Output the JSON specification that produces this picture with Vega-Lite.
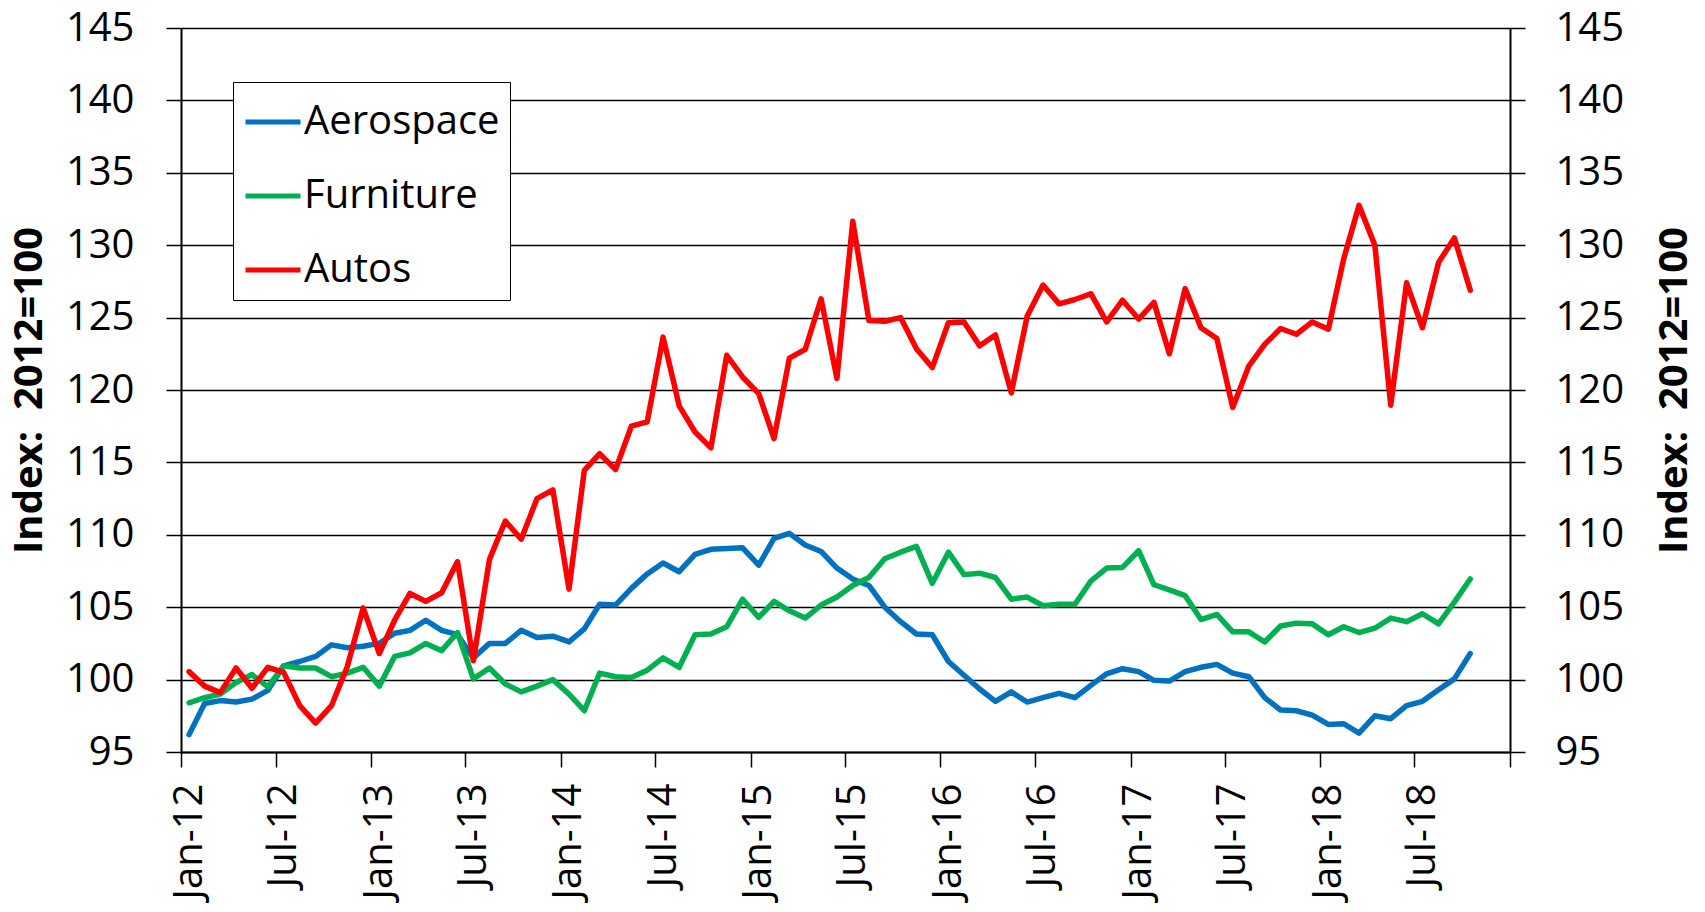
{
  "$schema": "https://vega.github.io/schema/vega-lite/v6.json",
  "width": 1329,
  "height": 724,
  "autosize": "none",
  "padding": {"left": 181, "top": 28, "right": 195, "bottom": 160},
  "background": "white",
  "data": {"values": [
    {"month": "2012-01", "Aerospace": 96.2, "Furniture": 98.4, "Autos": 100.55},
    {"month": "2012-02", "Aerospace": 98.35, "Furniture": 98.75, "Autos": 99.55},
    {"month": "2012-03", "Aerospace": 98.55, "Furniture": 99.0, "Autos": 99.1},
    {"month": "2012-04", "Aerospace": 98.45, "Furniture": 99.8, "Autos": 100.8},
    {"month": "2012-05", "Aerospace": 98.65, "Furniture": 100.35, "Autos": 99.4},
    {"month": "2012-06", "Aerospace": 99.25, "Furniture": 99.5, "Autos": 100.85},
    {"month": "2012-07", "Aerospace": 100.95, "Furniture": 100.95, "Autos": 100.5},
    {"month": "2012-08", "Aerospace": 101.25, "Furniture": 100.8, "Autos": 98.2},
    {"month": "2012-09", "Aerospace": 101.6, "Furniture": 100.8, "Autos": 97.0},
    {"month": "2012-10", "Aerospace": 102.4, "Furniture": 100.2, "Autos": 98.2},
    {"month": "2012-11", "Aerospace": 102.2, "Furniture": 100.45, "Autos": 100.9},
    {"month": "2012-12", "Aerospace": 102.3, "Furniture": 100.85, "Autos": 104.95},
    {"month": "2013-01", "Aerospace": 102.5, "Furniture": 99.55, "Autos": 101.8},
    {"month": "2013-02", "Aerospace": 103.2, "Furniture": 101.6, "Autos": 104.1},
    {"month": "2013-03", "Aerospace": 103.4, "Furniture": 101.85, "Autos": 105.95},
    {"month": "2013-04", "Aerospace": 104.1, "Furniture": 102.5, "Autos": 105.4},
    {"month": "2013-05", "Aerospace": 103.4, "Furniture": 102.0, "Autos": 106.0},
    {"month": "2013-06", "Aerospace": 103.1, "Furniture": 103.25, "Autos": 108.15},
    {"month": "2013-07", "Aerospace": 101.5, "Furniture": 100.05, "Autos": 101.3},
    {"month": "2013-08", "Aerospace": 102.5, "Furniture": 100.8, "Autos": 108.3},
    {"month": "2013-09", "Aerospace": 102.5, "Furniture": 99.7, "Autos": 110.95},
    {"month": "2013-10", "Aerospace": 103.4, "Furniture": 99.15, "Autos": 109.7},
    {"month": "2013-11", "Aerospace": 102.9, "Furniture": 99.55, "Autos": 112.5},
    {"month": "2013-12", "Aerospace": 103.0, "Furniture": 100.0, "Autos": 113.1},
    {"month": "2014-01", "Aerospace": 102.6, "Furniture": 99.0, "Autos": 106.25},
    {"month": "2014-02", "Aerospace": 103.5, "Furniture": 97.85, "Autos": 114.45},
    {"month": "2014-03", "Aerospace": 105.2, "Furniture": 100.45, "Autos": 115.6},
    {"month": "2014-04", "Aerospace": 105.15, "Furniture": 100.2, "Autos": 114.5},
    {"month": "2014-05", "Aerospace": 106.3, "Furniture": 100.15, "Autos": 117.5},
    {"month": "2014-06", "Aerospace": 107.3, "Furniture": 100.65, "Autos": 117.8},
    {"month": "2014-07", "Aerospace": 108.05, "Furniture": 101.5, "Autos": 123.65},
    {"month": "2014-08", "Aerospace": 107.45, "Furniture": 100.85, "Autos": 118.9},
    {"month": "2014-09", "Aerospace": 108.65, "Furniture": 103.1, "Autos": 117.1},
    {"month": "2014-10", "Aerospace": 109.0, "Furniture": 103.15, "Autos": 116.0},
    {"month": "2014-11", "Aerospace": 109.05, "Furniture": 103.65, "Autos": 122.4},
    {"month": "2014-12", "Aerospace": 109.1, "Furniture": 105.55, "Autos": 120.9},
    {"month": "2015-01", "Aerospace": 107.9, "Furniture": 104.3, "Autos": 119.75},
    {"month": "2015-02", "Aerospace": 109.75, "Furniture": 105.4, "Autos": 116.65},
    {"month": "2015-03", "Aerospace": 110.1, "Furniture": 104.75, "Autos": 122.2},
    {"month": "2015-04", "Aerospace": 109.3, "Furniture": 104.25, "Autos": 122.8},
    {"month": "2015-05", "Aerospace": 108.85, "Furniture": 105.15, "Autos": 126.3},
    {"month": "2015-06", "Aerospace": 107.7, "Furniture": 105.7, "Autos": 120.8},
    {"month": "2015-07", "Aerospace": 106.95, "Furniture": 106.5, "Autos": 131.65},
    {"month": "2015-08", "Aerospace": 106.5, "Furniture": 107.05, "Autos": 124.8},
    {"month": "2015-09", "Aerospace": 105.0, "Furniture": 108.35, "Autos": 124.75},
    {"month": "2015-10", "Aerospace": 104.0, "Furniture": 108.8, "Autos": 125.0},
    {"month": "2015-11", "Aerospace": 103.15, "Furniture": 109.2, "Autos": 122.85},
    {"month": "2015-12", "Aerospace": 103.1, "Furniture": 106.65, "Autos": 121.55},
    {"month": "2016-01", "Aerospace": 101.25, "Furniture": 108.8, "Autos": 124.65},
    {"month": "2016-02", "Aerospace": 100.3, "Furniture": 107.25, "Autos": 124.7},
    {"month": "2016-03", "Aerospace": 99.35, "Furniture": 107.35, "Autos": 123.05},
    {"month": "2016-04", "Aerospace": 98.5, "Furniture": 107.05, "Autos": 123.8},
    {"month": "2016-05", "Aerospace": 99.15, "Furniture": 105.55, "Autos": 119.8},
    {"month": "2016-06", "Aerospace": 98.45, "Furniture": 105.7, "Autos": 125.1},
    {"month": "2016-07", "Aerospace": 98.75, "Furniture": 105.1, "Autos": 127.25},
    {"month": "2016-08", "Aerospace": 99.05, "Furniture": 105.2, "Autos": 125.95},
    {"month": "2016-09", "Aerospace": 98.75, "Furniture": 105.2, "Autos": 126.25},
    {"month": "2016-10", "Aerospace": 99.6, "Furniture": 106.8, "Autos": 126.65},
    {"month": "2016-11", "Aerospace": 100.4, "Furniture": 107.7, "Autos": 124.7},
    {"month": "2016-12", "Aerospace": 100.75, "Furniture": 107.75, "Autos": 126.2},
    {"month": "2017-01", "Aerospace": 100.55, "Furniture": 108.9, "Autos": 124.9},
    {"month": "2017-02", "Aerospace": 99.95, "Furniture": 106.55, "Autos": 126.05},
    {"month": "2017-03", "Aerospace": 99.9, "Furniture": 106.2, "Autos": 122.5},
    {"month": "2017-04", "Aerospace": 100.55, "Furniture": 105.8, "Autos": 127.0},
    {"month": "2017-05", "Aerospace": 100.85, "Furniture": 104.15, "Autos": 124.3},
    {"month": "2017-06", "Aerospace": 101.05, "Furniture": 104.5, "Autos": 123.55},
    {"month": "2017-07", "Aerospace": 100.45, "Furniture": 103.3, "Autos": 118.8},
    {"month": "2017-08", "Aerospace": 100.2, "Furniture": 103.3, "Autos": 121.65},
    {"month": "2017-09", "Aerospace": 98.75, "Furniture": 102.6, "Autos": 123.15},
    {"month": "2017-10", "Aerospace": 97.9, "Furniture": 103.7, "Autos": 124.25},
    {"month": "2017-11", "Aerospace": 97.85, "Furniture": 103.9, "Autos": 123.85},
    {"month": "2017-12", "Aerospace": 97.55, "Furniture": 103.85, "Autos": 124.7},
    {"month": "2018-01", "Aerospace": 96.9, "Furniture": 103.1, "Autos": 124.2},
    {"month": "2018-02", "Aerospace": 96.95, "Furniture": 103.65, "Autos": 129.05},
    {"month": "2018-03", "Aerospace": 96.3, "Furniture": 103.25, "Autos": 132.75},
    {"month": "2018-04", "Aerospace": 97.5, "Furniture": 103.55, "Autos": 130.0},
    {"month": "2018-05", "Aerospace": 97.3, "Furniture": 104.25, "Autos": 118.95},
    {"month": "2018-06", "Aerospace": 98.2, "Furniture": 104.0, "Autos": 127.4},
    {"month": "2018-07", "Aerospace": 98.5, "Furniture": 104.55, "Autos": 124.3},
    {"month": "2018-08", "Aerospace": 99.3, "Furniture": 103.85, "Autos": 128.8},
    {"month": "2018-09", "Aerospace": 100.05, "Furniture": 105.35, "Autos": 130.5},
    {"month": "2018-10", "Aerospace": 101.8, "Furniture": 106.95, "Autos": 126.9}
  ]},
  "transform": [{"fold": ["Aerospace", "Furniture", "Autos"], "as": ["series", "value"]}],
  "encoding": {
    "x": {
      "field": "month",
      "timeUnit": "utcyearmonth",
      "type": "temporal",
      "bandPosition": 0.5,
      "title": null,
      "scale": {"domain": [
        {"year": 2012, "month": 1, "date": 1, "utc": true},
        {"year": 2019, "month": 1, "date": 1, "utc": true}
      ]},
      "axis": {
        "values": [
          {"year": 2012, "month": 1, "date": 1, "utc": true},
          {"year": 2012, "month": 7, "date": 1, "utc": true},
          {"year": 2013, "month": 1, "date": 1, "utc": true},
          {"year": 2013, "month": 7, "date": 1, "utc": true},
          {"year": 2014, "month": 1, "date": 1, "utc": true},
          {"year": 2014, "month": 7, "date": 1, "utc": true},
          {"year": 2015, "month": 1, "date": 1, "utc": true},
          {"year": 2015, "month": 7, "date": 1, "utc": true},
          {"year": 2016, "month": 1, "date": 1, "utc": true},
          {"year": 2016, "month": 7, "date": 1, "utc": true},
          {"year": 2017, "month": 1, "date": 1, "utc": true},
          {"year": 2017, "month": 7, "date": 1, "utc": true},
          {"year": 2018, "month": 1, "date": 1, "utc": true},
          {"year": 2018, "month": 7, "date": 1, "utc": true},
          {"year": 2019, "month": 1, "date": 1, "utc": true}
        ],
        "labelExpr": "utcyear(datum.value) >= 2019 ? '' : utcFormat(datum.value, '%b-%y')",
        "labelAngle": 270,
        "labelOffset": 8,
        "labelPadding": 16,
        "labelFontSize": 40,
        "labelColor": "black",
        "labelOverlap": false,
        "labelFlush": false,
        "labelBound": false,
        "grid": false,
        "tickSize": 15,
        "tickWidth": 1.5,
        "tickColor": "black",
        "domainColor": "black",
        "domainWidth": 2
      }
    }
  },
  "layer": [
    {
      "mark": {"type": "line", "strokeWidth": 5.5, "strokeJoin": "round", "strokeCap": "round"},
      "encoding": {
        "y": {
          "field": "value",
          "type": "quantitative",
          "scale": {"domain": [95, 145], "nice": false, "zero": false},
          "axis": {
            "orient": "left",
            "values": [95, 100, 105, 110, 115, 120, 125, 130, 135, 140, 145],
            "title": "Index:\u00a0 2012=100",
            "titleFontSize": 40,
            "titleFontWeight": "bold",
            "titleColor": "black",
            "titleAngle": 270,
            "titleX": -152,
            "titleY": 362,
            "titleBaseline": "middle",
            "titleAlign": "center",
            "labelFontSize": 40,
            "labelColor": "black",
            "labelPadding": 32,
            "grid": true,
            "gridColor": "black",
            "gridWidth": 1.5,
            "gridOpacity": 1,
            "tickSize": 15,
            "tickWidth": 1.5,
            "tickColor": "black",
            "domainColor": "black",
            "domainWidth": 2
          }
        },
        "color": {
          "field": "series",
          "type": "nominal",
          "scale": {"domain": ["Aerospace", "Furniture", "Autos"], "range": ["#0070C0", "#00B050", "#FF0000"]},
          "legend": {
            "orient": "none",
            "legendX": 52,
            "legendY": 54,
            "title": null,
            "symbolType": "stroke",
            "symbolSize": 3025,
            "symbolStrokeWidth": 5,
            "labelFontSize": 40,
            "labelColor": "black",
            "labelLimit": 0,
            "labelOffset": 1,
            "rowPadding": 24,
            "padding": 10,
            "strokeColor": "black",
            "fillColor": "white"
          }
        }
      }
    },
    {
      "mark": {"type": "line", "opacity": 0},
      "encoding": {
        "y": {
          "field": "value",
          "type": "quantitative",
          "axis": {
            "orient": "right",
            "values": [95, 100, 105, 110, 115, 120, 125, 130, 135, 140, 145],
            "title": "Index:\u00a0 2012=100",
            "titleFontSize": 40,
            "titleFontWeight": "bold",
            "titleColor": "black",
            "titleAngle": 270,
            "titleX": 164,
            "titleY": 362,
            "titleBaseline": "middle",
            "titleAlign": "center",
            "labelFontSize": 40,
            "labelColor": "black",
            "labelPadding": 30,
            "grid": false,
            "tickSize": 15,
            "tickWidth": 1.5,
            "tickColor": "black",
            "domainColor": "black",
            "domainWidth": 2
          }
        },
        "detail": {"field": "series"}
      }
    }
  ],
  "resolve": {"axis": {"y": "independent"}},
  "config": {
    "font": "Open Sans",
    "view": {"stroke": null}
  }
}
